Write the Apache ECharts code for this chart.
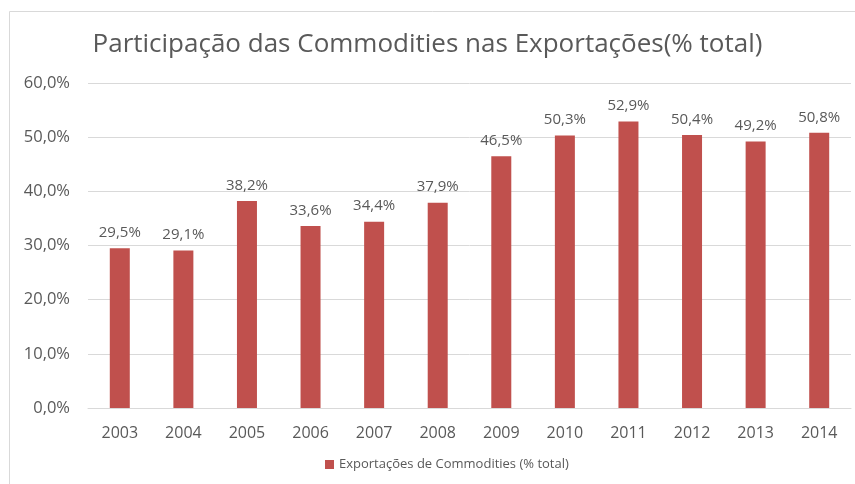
<!DOCTYPE html>
<html><head><meta charset="utf-8">
<script src="https://cdn.jsdelivr.net/npm/echarts@6/dist/echarts.min.js"></script>
<style>html,body{margin:0;padding:0;background:#fff}#c{width:855px;height:484px}</style>
</head><body><div id="c"></div>
<script>
const titleText = 'Participação das Commodities nas Exportações(% total)';
const seriesName = 'Exportações de Commodities (% total)';
const categories = ['2003','2004','2005','2006','2007','2008','2009','2010','2011','2012','2013','2014'];
const values = [29.5, 29.1, 38.2, 33.6, 34.4, 37.9, 46.5, 50.3, 52.9, 50.4, 49.2, 50.8];
const fmt = v => v.toFixed(1).replace('.', ',') + '%';
const chart = echarts.init(document.getElementById('c'));
const font = 'Open Sans';
chart.setOption({
  animation: false,
  graphic: [{type:'rect', shape:{x:9.5, y:11.5, width:900, height:500}, style:{fill:'none', stroke:'#d9d9d9', lineWidth:1}, z:-1}],
  title: {text: titleText, left: 'center', top: 27, padding:[5,0,5,14], textStyle:{fontFamily: font, fontSize: 26, fontWeight:'normal', color:'#595959'}},
  legend: {bottom: 8, left: 320, itemWidth: 9, itemHeight: 9, icon:'rect', itemGap: 4,
    textStyle:{fontFamily: font, fontSize: 13, color:'#595959'}},
  grid: {left: 88, right: 4, top: 83, bottom: 76, containLabel:false},
  xAxis: {type:'category', data: categories,
    axisLine:{lineStyle:{color:'#d9d9d9'}}, axisTick:{show:false},
    axisLabel:{fontFamily: font, fontSize: 16, color:'#595959', margin: 17}},
  yAxis: {type:'value', min:0, max:60, interval:10,
    axisLabel:{fontFamily: font, fontSize: 16.5, color:'#595959', margin: 18, formatter: v => v.toFixed(1).replace('.', ',') + '%'},
    splitLine:{lineStyle:{color:'#d9d9d9'}}, axisLine:{show:false}, axisTick:{show:false}},
  series: [{name: seriesName, type:'bar', data: values, barWidth: 20,
    itemStyle:{color:'#c0504d'},
    label:{show:true, position:'top', distance: 8, fontFamily: font, fontSize: 15, color:'#595959', formatter: p => fmt(p.value)}}]
});
</script></body></html>
